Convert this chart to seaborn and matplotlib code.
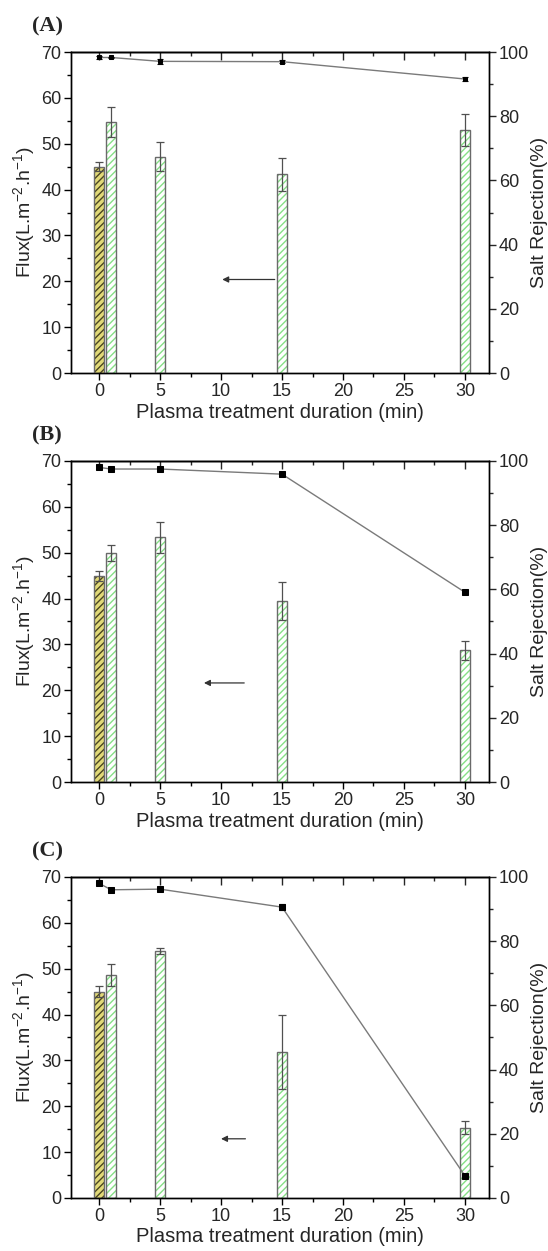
import matplotlib
matplotlib.use("Agg")
import matplotlib.pyplot as plt
from matplotlib.ticker import MultipleLocator
import pandas as pd
import seaborn as sns

# Treatment durations (min); the 0-min bar is the untreated membrane
times = [0, 1, 5, 15, 30]
membrane = ["pristine", "treated", "treated", "treated", "treated"]

# Panel A
flux_a = [45.0, 54.7, 47.2, 43.3, 53.0]
flux_a_err = [1.0, 3.3, 3.2, 3.6, 3.5]
rej_a = [98.3, 98.3, 97.1, 97.0, 91.6]
rej_a_err = [0.5, 0.3, 0.7, 0.5, 0.5]

# Panel B
flux_b = [45.0, 49.9, 53.4, 39.5, 28.7]
flux_b_err = [1.1, 1.7, 3.4, 4.1, 2.0]
rej_b = [98.0, 97.5, 97.5, 95.9, 59.1]
rej_b_err = [0.3, 0.3, 0.3, 0.4, 0.3]

# Panel C
flux_c = [45.0, 48.6, 53.9, 31.8, 15.3]
flux_c_err = [1.2, 2.4, 0.6, 8.0, 1.4]
rej_c = [98.0, 96.0, 96.2, 90.6, 6.9]
rej_c_err = [0.3, 0.4, 0.3, 1.0, 0.4]

panel_titles = ["(A)", "(B)", "(C)"]

sns.set_theme(style="ticks")
plt.rcParams["font.family"] = ["Liberation Sans", "DejaVu Sans"]
plt.rcParams["mathtext.fontset"] = "custom"
plt.rcParams["mathtext.rm"] = "Liberation Sans"
plt.rcParams["mathtext.default"] = "regular"
plt.rcParams["hatch.linewidth"] = 1.0
plt.rcParams["axes.edgecolor"] = "black"
plt.rcParams["axes.linewidth"] = 1.0

fig = plt.figure(figsize=(5.48, 12.51), dpi=100)

left, width = 0.1296, 0.7634
height = 0.2566
bottoms = [0.7018, 0.3749, 0.0424]

bar_palette = {"pristine": "#f2e866", "treated": "white"}
hatch_color = {"pristine": "#4a4520", "treated": "#86e086"}

panels = [
    (flux_a, flux_a_err, rej_a, rej_a_err, 2.5, (10.1, 14.4, 20.4)),
    (flux_b, flux_b_err, rej_b, rej_b_err, 5.0, (8.6, 11.9, 21.6)),
    (flux_c, flux_c_err, rej_c, rej_c_err, 5.0, (10.0, 12.0, 12.9)),
]

for i, (flux, ferr, rej, rerr, msize, arrow) in enumerate(panels):
    ax = fig.add_axes([left, bottoms[i], width, height])
    df = pd.DataFrame({"time": times, "flux": flux, "membrane": membrane})

    # hatched bars (hatch takes the edge colour, so edges are hidden here)
    sns.barplot(data=df, x="time", y="flux", hue="membrane", palette=bar_palette,
                native_scale=True, dodge=False, width=0.8, errorbar=None,
                legend=False, ax=ax, linewidth=0, zorder=2)
    for patch, kind in zip(ax.patches, membrane):
        patch.set_hatch("/////")
        patch.set_edgecolor(hatch_color[kind])
        patch.set_linewidth(0)
    # grey outlines
    sns.barplot(data=df, x="time", y="flux", native_scale=True, width=0.8,
                errorbar=None, fill=False, color="#6a6a6a", linewidth=1.0,
                ax=ax, zorder=3)
    ax.errorbar(times, flux, yerr=ferr, fmt="none", ecolor="#505050",
                elinewidth=0.9, capsize=3, capthick=0.9, zorder=4)

    ax.set_xlim(-2.3, 32.0)
    ax.set_ylim(0, 70)
    ax.xaxis.set_major_locator(MultipleLocator(5))
    ax.xaxis.set_minor_locator(MultipleLocator(2.5))
    ax.yaxis.set_major_locator(MultipleLocator(10))
    ax.yaxis.set_minor_locator(MultipleLocator(5))
    ax.tick_params(axis="both", which="major", direction="out", length=5,
                   width=1, labelsize=13, pad=2, color="black")
    ax.tick_params(axis="both", which="minor", direction="out", length=3,
                   width=1, color="black")
    ax.tick_params(axis="x", which="both", top=False)

    top = ax.secondary_xaxis("top")
    top.xaxis.set_major_locator(MultipleLocator(5))
    top.xaxis.set_minor_locator(MultipleLocator(2.5))
    top.tick_params(axis="x", which="major", direction="in", length=6, width=1,
                    labeltop=False)
    top.tick_params(axis="x", which="minor", direction="in", length=3, width=1)

    ax.set_xlabel("Plasma treatment duration (min)", fontsize=14.5, labelpad=2)
    ax.set_ylabel("Flux(L.m$^{-2}$.h$^{-1}$)", fontsize=14, labelpad=3)

    # salt rejection on the right axis
    ax2 = ax.twinx()
    sns.lineplot(x=times, y=rej, ax=ax2, color="#7a7a7a", linewidth=1.0,
                 marker="s", markersize=msize, markerfacecolor="black",
                 markeredgecolor="black", zorder=5)
    ax2.errorbar(times, rej, yerr=rerr, fmt="none", ecolor="black",
                 elinewidth=0.8, capsize=2, capthick=0.8, zorder=6)
    ax2.set_ylim(0, 100)
    ax2.yaxis.set_major_locator(MultipleLocator(20))
    ax2.yaxis.set_minor_locator(MultipleLocator(10))
    ax2.tick_params(axis="y", which="major", direction="out", length=5,
                    width=1, labelsize=13, pad=2)
    ax2.tick_params(axis="y", which="minor", direction="out", length=3, width=1)
    ax2.set_ylabel("Salt Rejection(%)", fontsize=14, labelpad=1)

    # arrow pointing to the flux axis
    tip, tail, y = arrow
    ax.annotate("", xy=(tip, y), xytext=(tail, y),
                arrowprops=dict(arrowstyle="-|>", color="#333333", lw=0.9,
                                mutation_scale=9, shrinkA=0, shrinkB=0),
                zorder=6)

    fig.text(0.058, bottoms[i] + height + 0.0205, panel_titles[i],
             fontsize=16, fontweight="bold", family="Liberation Serif",
             ha="left", va="center")

fig.savefig("out.png", dpi=100)
